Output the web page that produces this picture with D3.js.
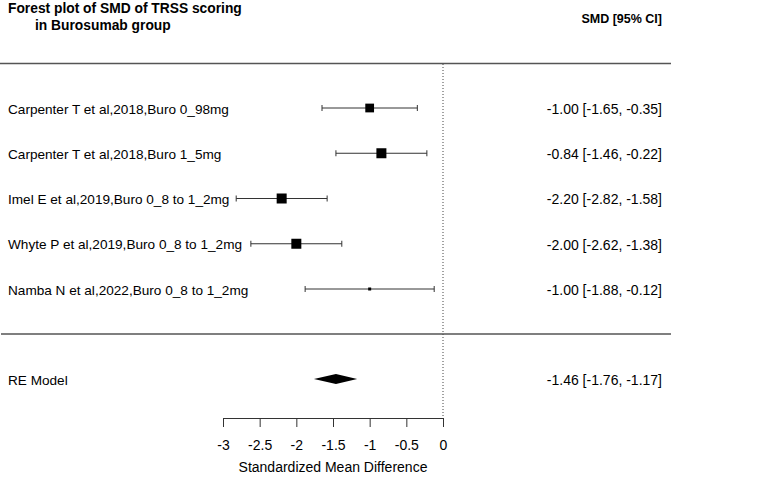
<!DOCTYPE html>
<html>
<head>
<meta charset="utf-8">
<script src="https://cdn.jsdelivr.net/npm/d3@7"></script>
<style>
  body { margin: 0; background: #fff; }
  text { font-family: "Liberation Sans", Arial, sans-serif; fill: #000; }
</style>
</head>
<body>
<div class="d3-canvas"></div>
<script>
const WIDTH = 758;
const HEIGHT = 491;
const FONT = 14;
const LABEL_FONT = 13.6;

// Study data
const studies = [
    'Carpenter T et al,2018,Buro 0_98mg',
    'Carpenter T et al,2018,Buro 1_5mg',
    'Imel E et al,2019,Buro 0_8 to 1_2mg',
    'Whyte P et al,2019,Buro 0_8 to 1_2mg',
    'Namba N et al,2022,Buro 0_8 to 1_2mg'
];
const smd = [-1.00, -0.84, -2.20, -2.00, -1.00];
const lower = [-1.65, -1.46, -2.82, -2.62, -1.88];
const upper = [-0.35, -0.22, -1.58, -1.38, -0.12];

// Pooled estimate
const reLabel = 'RE Model';
const reEst = -1.46;
const reLower = -1.76;
const reUpper = -1.17;

const xTicks = [-3, -2.5, -2, -1.5, -1, -0.5, 0];

// plain hyphen minus like the original
const fmt = v => v.toFixed(2);
const ciText = (e, l, u) => `${fmt(e)} [${fmt(l)}, ${fmt(u)}]`;

const svg = d3.select('.d3-canvas')
    .append('svg')
        .attr('width', WIDTH)
        .attr('height', HEIGHT);

const x = d3.scaleLinear()
    .domain([-3, 0])
    .range([223, 443]);

// rows: studies top to bottom, then the RE model
const y = d3.scalePoint()
    .domain(d3.range(studies.length))
    .range([108, 289]);
const reY = 379;
const axisY = 418;

// square size from inverse-variance weight
const weights = lower.map((l, i) => 1 / Math.pow((upper[i] - l) / (2 * 1.96), 2));
const size = d3.scaleLinear()
    .domain(d3.extent(weights))
    .range([3, 10]);

// header
svg.append('text')
    .attr('x', 8).attr('y', 13)
    .attr('font-size', 13.8).attr('font-weight', 'bold')
    .text('Forest plot of SMD of TRSS scoring');
svg.append('text')
    .attr('x', 35).attr('y', 30)
    .attr('font-size', 13.8).attr('font-weight', 'bold')
    .text('in Burosumab group');
svg.append('text')
    .attr('x', 662).attr('y', 23)
    .attr('font-size', 12.5).attr('font-weight', 'bold')
    .attr('text-anchor', 'end')
    .text('SMD [95% CI]');

// separator lines
svg.append('line')
    .attr('x1', 0).attr('x2', 671)
    .attr('y1', 63.5).attr('y2', 63.5)
    .attr('stroke', '#555').attr('stroke-width', 1.5);
svg.append('line')
    .attr('x1', 1).attr('x2', 671)
    .attr('y1', 334).attr('y2', 334)
    .attr('stroke', '#555').attr('stroke-width', 1.5);

// reference line at 0
svg.append('line')
    .attr('x1', x(0)).attr('x2', x(0))
    .attr('y1', 64).attr('y2', axisY)
    .attr('stroke', '#444').attr('stroke-width', 1)
    .attr('stroke-dasharray', '1,2');

const rows = svg.append('g')
    .selectAll('g')
    .data(studies)
    .join('g');

rows.append('text')
    .attr('x', 8)
    .attr('y', (d, i) => y(i))
    .attr('dy', '0.42em')
    .attr('font-size', LABEL_FONT)
    .text(d => d);

rows.append('line')
    .attr('x1', (d, i) => x(lower[i]))
    .attr('x2', (d, i) => x(upper[i]))
    .attr('y1', (d, i) => y(i))
    .attr('y2', (d, i) => y(i))
    .attr('stroke', '#333');

// end caps
rows.selectAll('.cap')
    .data((d, i) => [[lower[i], i], [upper[i], i]])
    .join('line')
    .attr('x1', c => x(c[0]))
    .attr('x2', c => x(c[0]))
    .attr('y1', c => y(c[1]) - 3)
    .attr('y2', c => y(c[1]) + 3)
    .attr('stroke', '#333');

rows.append('rect')
    .attr('x', (d, i) => x(smd[i]) - size(weights[i]) / 2)
    .attr('y', (d, i) => y(i) - size(weights[i]) / 2)
    .attr('width', (d, i) => size(weights[i]))
    .attr('height', (d, i) => size(weights[i]))
    .attr('fill', '#000');

rows.append('text')
    .attr('x', 662)
    .attr('y', (d, i) => y(i))
    .attr('dy', '0.42em')
    .attr('font-size', FONT)
    .attr('text-anchor', 'end')
    .text((d, i) => ciText(smd[i], lower[i], upper[i]));

// RE model
svg.append('text')
    .attr('x', 8).attr('y', reY).attr('dy', '0.42em')
    .attr('font-size', LABEL_FONT)
    .text(reLabel);
svg.append('path')
    .attr('d', `M${x(reLower)},${reY} L${x(reEst)},${reY - 5} L${x(reUpper)},${reY} L${x(reEst)},${reY + 5} Z`)
    .attr('fill', '#000');
svg.append('text')
    .attr('x', 662).attr('y', reY).attr('dy', '0.42em')
    .attr('font-size', FONT)
    .attr('text-anchor', 'end')
    .text(ciText(reEst, reLower, reUpper));

// x axis
const xAxis = d3.axisBottom(x)
    .tickValues(xTicks)
    .tickFormat(d => String(d))
    .tickSizeInner(9)
    .tickSizeOuter(0)
    .tickPadding(13);
const xAxisGroup = svg.append('g')
    .attr('transform', `translate(0, ${axisY})`)
    .call(xAxis);
xAxisGroup.selectAll('text')
    .attr('font-size', FONT)
    .style('font-family', '"Liberation Sans", Arial, sans-serif');
xAxisGroup.selectAll('line, path').attr('stroke', '#333');

svg.append('text')
    .attr('x', x(-1.5)).attr('y', 472)
    .attr('font-size', FONT)
    .attr('text-anchor', 'middle')
    .text('Standardized Mean Difference');
</script>
</body>
</html>
